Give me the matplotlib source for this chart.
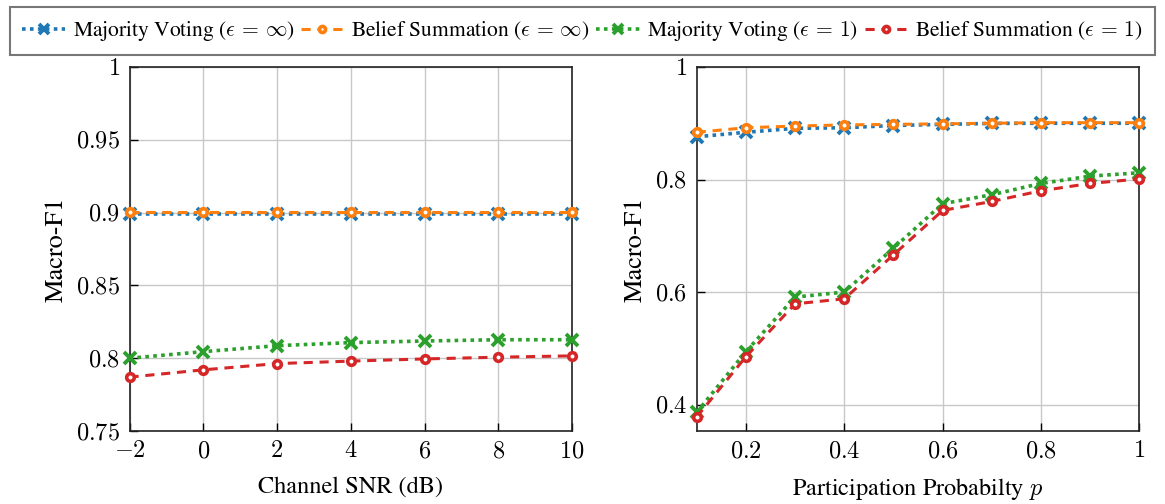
import matplotlib
matplotlib.use("Agg")
import matplotlib.pyplot as plt
from matplotlib.ticker import FuncFormatter

plt.rcParams['font.family'] = ['STIXGeneral', 'DejaVu Serif']
plt.rcParams['mathtext.fontset'] = 'cm'

# ---- data ----
snr = [-2, 0, 2, 4, 6, 8, 10]
snr_mv_inf = [0.899, 0.899, 0.899, 0.899, 0.899, 0.899, 0.899]
snr_bs_inf = [0.9005, 0.9005, 0.9005, 0.9005, 0.9005, 0.9005, 0.9005]
snr_mv_1 = [0.800, 0.8045, 0.8086, 0.8107, 0.8118, 0.8127, 0.8127]
snr_bs_1 = [0.787, 0.792, 0.7963, 0.798, 0.7995, 0.8007, 0.8016]

prob = [0.1, 0.2, 0.3, 0.4, 0.5, 0.6, 0.7, 0.8, 0.9, 1.0]
p_mv_inf = [0.876, 0.884, 0.891, 0.892, 0.896, 0.898, 0.8997, 0.900, 0.900, 0.900]
p_bs_inf = [0.884, 0.892, 0.895, 0.897, 0.898, 0.899, 0.900, 0.901, 0.901, 0.901]
p_mv_1 = [0.386, 0.494, 0.591, 0.600, 0.678, 0.757, 0.773, 0.793, 0.806, 0.812]
p_bs_1 = [0.378, 0.485, 0.579, 0.588, 0.666, 0.745, 0.761, 0.780, 0.793, 0.801]

labels = [r'Majority Voting ($\epsilon\,=\,\infty$)',
          r'Belief Summation ($\epsilon\,=\,\infty$)',
          r'Majority Voting ($\epsilon\,=\,1$)',
          r'Belief Summation ($\epsilon\,=\,1$)']
colors = ['#1f77b4', '#ff7f0e', '#2ca02c', '#d62728']

W, H = 1165, 504
fig = plt.figure(figsize=(W/100, H/100), dpi=100)
top, bot = 67, 431
ax1 = fig.add_axes([129.5/W, 1-bot/H, (572-129.5)/W, (bot-top)/H])
ax2 = fig.add_axes([696.7/W, 1-bot/H, (1139.3-696.7)/W, (bot-top)/H])

def styles(i):
    if i in (0, 2):
        return dict(linestyle=(0, (1, 1.2)), marker='x', markersize=8.5, markeredgewidth=2.8,
                    linewidth=2.6)
    return dict(linestyle=(0, (3, 2.2)), marker='o', markersize=5.5, markeredgewidth=2.6,
                markerfacecolor='white', linewidth=2.2)

def fmt(v, pos):
    return r'$%s$' % ('%g' % v)

handles = []
for ax, x, series in [(ax1, snr, [snr_mv_inf, snr_bs_inf, snr_mv_1, snr_bs_1]),
                      (ax2, prob, [p_mv_inf, p_bs_inf, p_mv_1, p_bs_1])]:
    hs = []
    for i, y in enumerate(series):
        h, = ax.plot(x, y, color=colors[i], label=labels[i], clip_on=False,
                     zorder=3 + (i % 2), **styles(i))
        hs.append(h)
    handles = hs
    ax.grid(True, color='#c8c8c8', linewidth=1.0)
    ax.set_axisbelow(True)
    ax.tick_params(direction='in', length=6, width=1, labelsize=17.5, pad=7, top=False, right=False)
    ax.xaxis.set_major_formatter(FuncFormatter(fmt))
    ax.yaxis.set_major_formatter(FuncFormatter(fmt))
    for sp in ax.spines.values():
        sp.set_linewidth(1.2)
        sp.set_color('#222222')
    ax.set_ylabel('Macro-F1', fontsize=19, labelpad=5)

ax1.set_xlim(-2, 10)
ax1.set_ylim(0.75, 1.0)
ax1.set_xticks(snr)
ax1.set_yticks([0.75, 0.8, 0.85, 0.9, 0.95, 1.0])
ax1.set_xlabel('Channel SNR (dB)', fontsize=17.5, labelpad=10)

ax2.set_xlim(0.1, 1.0)
ax2.set_ylim(0.353, 1.0)
ax2.set_xticks([0.2, 0.4, 0.6, 0.8, 1.0])
ax2.set_yticks([0.4, 0.6, 0.8, 1.0])
ax2.set_xlabel(r'Participation Probabilty $p$', fontsize=17.5, labelpad=10)

leg = fig.legend(handles=handles, loc='upper center', bbox_to_anchor=(0.5, 0.994), ncol=4,
                 fontsize=15.5, frameon=True, fancybox=False, edgecolor='#555555',
                 handlelength=2.0, handletextpad=0.35, columnspacing=0.3, borderpad=0.55,
                 borderaxespad=0.2, markerscale=0.8)
leg.get_frame().set_linewidth(1.5)

fig.savefig('out.png', dpi=100)
